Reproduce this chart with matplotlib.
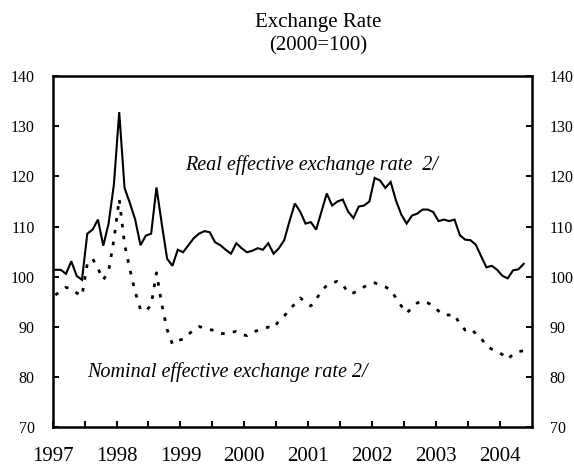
import matplotlib
matplotlib.use("Agg")
import matplotlib.pyplot as plt
import numpy as np

# Monthly data, Jan 1997 .. May 2004 (2000=100)
real_eer = [
    101.4, 101.4, 100.6, 103.1, 100.2, 99.4, 108.6, 109.4, 111.4, 106.2, 110.6, 118.4,
    132.8, 117.7, 114.7, 111.4, 106.3, 108.2, 108.6, 117.8, 110.5, 103.6, 102.2, 105.4,
    104.9, 106.3, 107.7, 108.6, 109.1, 108.9, 106.9, 106.3, 105.4, 104.6, 106.7, 105.7,
    104.9, 105.2, 105.7, 105.4, 106.7, 104.6, 105.7, 107.3, 111.1, 114.6, 113.0, 110.6,
    110.9, 109.4, 113.0, 116.6, 114.2, 115.0, 115.4, 113.0, 111.7, 114.0, 114.2, 115.0,
    119.7, 119.2, 117.7, 118.9, 115.2, 112.4, 110.6, 112.2, 112.6, 113.4, 113.4, 112.9,
    111.1, 111.4, 111.1, 111.4, 108.3, 107.4, 107.3, 106.4, 104.1, 101.9, 102.2, 101.4,
    100.2, 99.7, 101.3, 101.5, 102.6,
]
nominal_eer = [
    96.4, 97.1, 97.9, 97.6, 96.8, 96.2, 102.6, 103.6, 101.7, 99.4, 101.1, 107.4,
    115.5, 106.5, 101.5, 97.0, 93.5, 93.2, 94.4, 100.8, 94.5, 89.5, 86.6, 87.3,
    87.6, 88.5, 89.5, 90.1, 89.8, 89.5, 89.3, 88.7, 88.7, 89.0, 89.1, 88.5,
    88.3, 89.0, 89.3, 89.6, 90.0, 89.8, 91.2, 92.2, 93.5, 94.6, 95.8, 95.0,
    94.2, 95.5, 97.2, 98.3, 98.8, 99.1, 98.5, 96.8, 96.8, 97.3, 98.0, 98.6,
    98.8, 98.4, 98.0, 97.4, 95.8, 94.2, 92.8, 93.8, 94.8, 95.2, 94.8, 94.2,
    93.2, 92.4, 92.4, 92.5, 90.6, 89.4, 89.7, 88.7, 87.8, 86.2, 85.6, 85.2,
    84.5, 83.6, 84.6, 85.1, 85.3,
]
start_year = 1997
years = list(range(1997, 2005))
yticks = [70, 80, 90, 100, 110, 120, 130, 140]

months = np.arange(len(real_eer))
x = start_year + (months + 0.5) / 12.0

plt.rcParams['font.family'] = ['Liberation Serif', 'DejaVu Serif']

fig = plt.figure(figsize=(5.74, 4.67), dpi=100)
ax = fig.add_axes([0.0918, 0.0846, 0.8345, 0.7527])

ax.plot(x, real_eer, color='black', lw=1.5, solid_joinstyle='miter')
ax.plot(x, nominal_eer, color='black', lw=2.0, linestyle=(0, (1.3, 3.0)),
        dash_capstyle='butt')

ax.set_xlim(1997, 2004.5)
ax.set_ylim(70, 140)

ax.set_xticks(years)
ax.set_xticklabels([str(y) for y in years])
ax.set_xticks(np.arange(1997.5, 2004.5, 1.0), minor=True)
ax.set_yticks(yticks)

for s in ax.spines.values():
    s.set_linewidth(1.8)

ax.tick_params(axis='x', which='both', direction='in', length=4, width=1.4,
               labelsize=15, pad=14)
ax.tick_params(axis='y', which='both', direction='in', length=4, width=1.4,
               labelsize=11.5, pad=13, left=True, right=True,
               labelleft=True, labelright=True)

ax.text(1999.07, 122.2, "Real effective exchange rate  2/", fontstyle='italic',
        fontsize=14.5, va='center', ha='left')
ax.text(1997.54, 81.0, "Nominal effective exchange rate 2/", fontstyle='italic',
        fontsize=14.5, va='center', ha='left')

fig.text(0.554, 0.972, "Exchange Rate\n(2000=100)", ha='center', va='top',
         fontsize=15, linespacing=1.3)

fig.savefig("out.png", dpi=100)
